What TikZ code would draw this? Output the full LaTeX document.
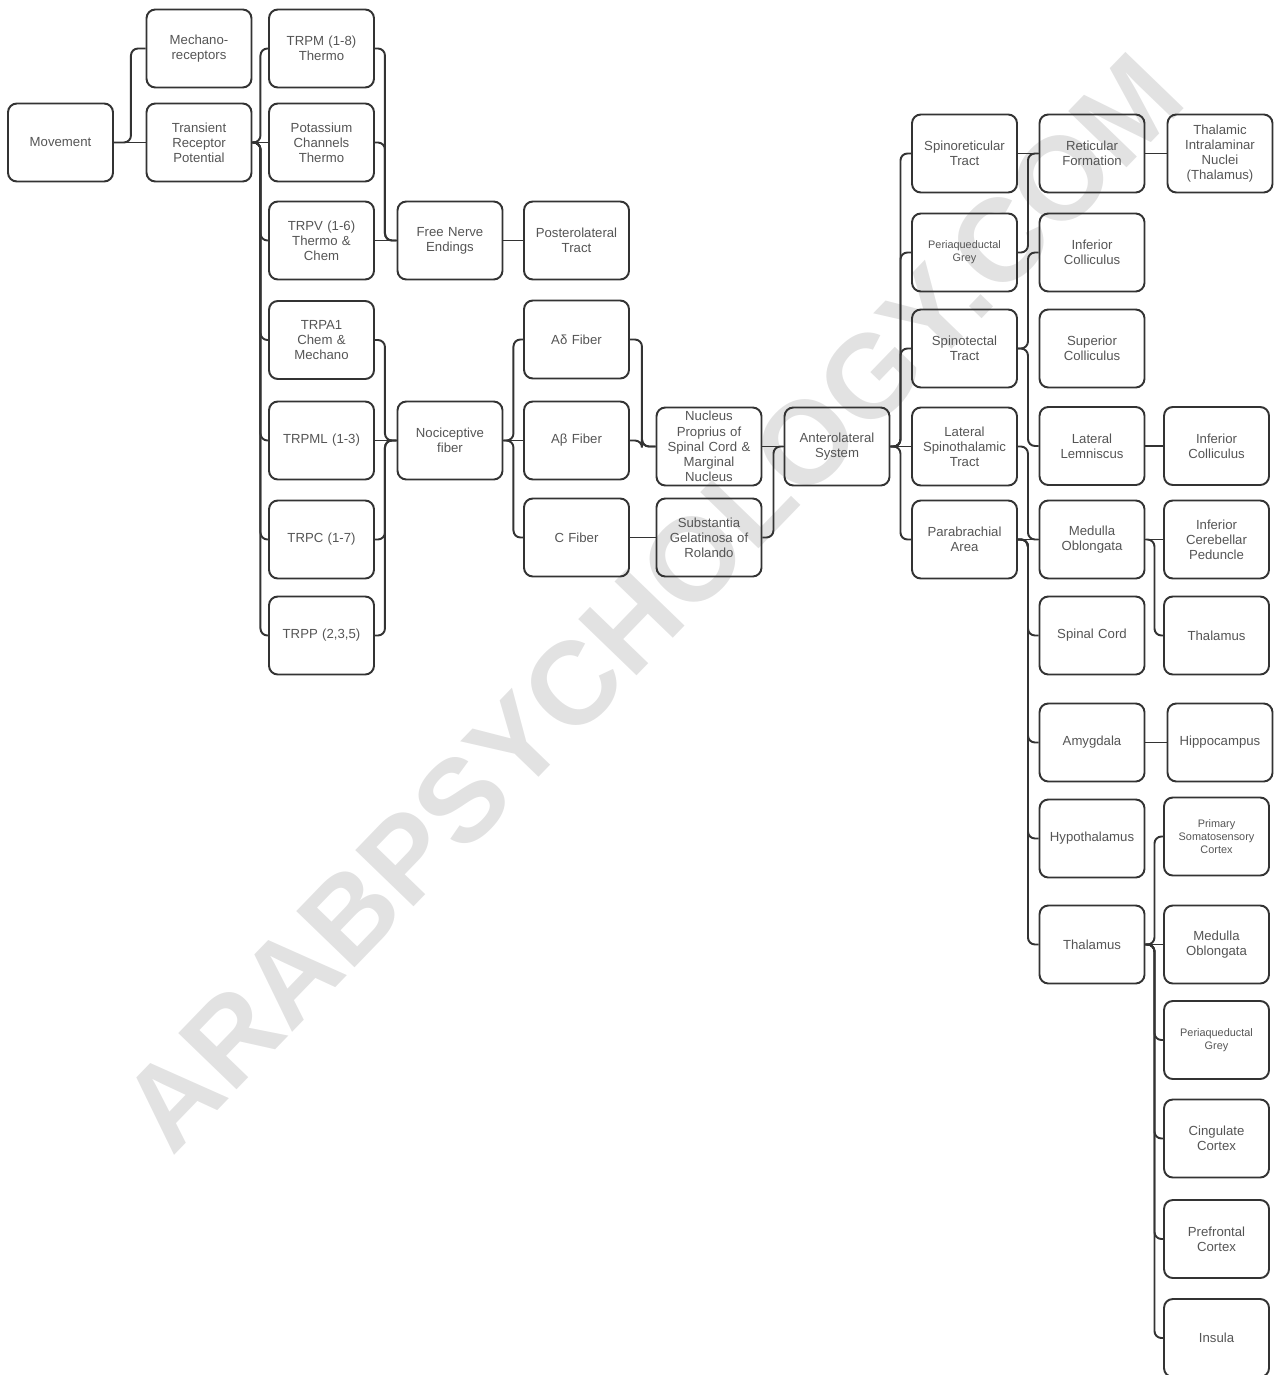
\documentclass[tikz,border=0pt]{standalone}
\usepackage{fontspec}
\setmainfont{Liberation Sans}
\usetikzlibrary{backgrounds}
\definecolor{boxline}{HTML}{333333}
\definecolor{boxtext}{HTML}{555555}
\definecolor{wmark}{HTML}{E2E2E2}

\begin{document}
\begin{tikzpicture}[
    x=0.02cm, y=-0.02cm,
    box/.style={rectangle, draw=boxline, line width=1.1pt, rounded corners=5pt, minimum width=2.1cm, minimum height=1.56cm, text width=2.05cm, align=center, inner sep=0pt, text=boxtext, font=\fontsize{7.5}{8.6}\selectfont},
    smalltext/.style={font=\fontsize{6.2}{7.2}\selectfont},
    link/.style={draw=boxline, line width=1.1pt, rounded corners=4pt},
    watermark/.style={text=wmark, rotate=46, font=\fontsize{67}{67}\selectfont\bfseries}
]
\useasboundingbox (0,0) rectangle (1275,1375);

% Watermark
\node[watermark] (wm) at (652,602) {ARABPSYCHOLOGY.COM};

% Receptors
\node[box] (move) at (60.5,142.5) {Movement};
\node[box] (mech) at (199,48.5) {Mechano-\\receptors};
\node[box] (trp) at (199,142.5) {Transient\\Receptor\\Potential};
\node[box] (trpm) at (321.5,48.5) {TRPM (1-8)\\Thermo};
\node[box] (kchan) at (321.5,142.5) {Potassium\\Channels\\Thermo};
\node[box] (trpv) at (321.5,240.5) {TRPV (1-6)\\Thermo \&\\Chem};
\node[box] (trpa) at (321.5,340) {TRPA1\\Chem \&\\Mechano};
\node[box] (trpml) at (321.5,440.5) {TRPML (1-3)};
\node[box] (trpc) at (321.5,539.5) {TRPC (1-7)};
\node[box] (trpp) at (321.5,635.5) {TRPP (2,3,5)};

% Fibers and spinal cord
\node[box] (fne) at (450,240.5) {Free Nerve\\Endings};
\node[box] (noci) at (450,440.5) {Nociceptive\\fiber};
\node[box] (plt) at (576.5,240.5) {Posterolateral\\Tract};
\node[box] (adelta) at (576.5,339.5) {Aδ Fiber};
\node[box] (abeta) at (576.5,440.5) {Aβ Fiber};
\node[box] (cfib) at (576.5,537.5) {C Fiber};
\node[box] (nprop) at (709,446.5) {Nucleus\\Proprius of\\Spinal Cord \&\\Marginal\\Nucleus};
\node[box] (sgr) at (709,537.5) {Substantia\\Gelatinosa of\\Rolando};
\node[box] (als) at (837,446.5) {Anterolateral\\System};

% Tracts
\node[box] (srt) at (964.5,153.5) {Spinoreticular\\Tract};
\node[box, smalltext] (pag) at (964.5,252.5) {Periaqueductal\\Grey};
\node[box] (stt) at (964.5,348.5) {Spinotectal\\Tract};
\node[box] (lst) at (964.5,446.5) {Lateral\\Spinothalamic\\Tract};
\node[box] (pba) at (964.5,539.5) {Parabrachial\\Area};

% Brain targets
\node[box] (retf) at (1092,153.5) {Reticular\\Formation};
\node[box] (icol) at (1092,252.5) {Inferior\\Colliculus};
\node[box] (scol) at (1092,348.5) {Superior\\Colliculus};
\node[box] (llem) at (1092,446) {Lateral\\Lemniscus};
\node[box] (medob) at (1092,539.5) {Medulla\\Oblongata};
\node[box] (spcord) at (1092,635.5) {Spinal Cord};
\node[box] (amyg) at (1092,742.5) {Amygdala};
\node[box] (hypo) at (1092,838.5) {Hypothalamus};
\node[box] (thal) at (1092,944.5) {Thalamus};

\node[box] (tin) at (1220,153.5) {Thalamic\\Intralaminar\\Nuclei\\(Thalamus)};
\node[box] (icol2) at (1216.5,446) {Inferior\\Colliculus};
\node[box] (icp) at (1216.5,539.5) {Inferior\\Cerebellar\\Peduncle};
\node[box] (thal2) at (1216.5,635.5) {Thalamus};
\node[box] (hippo) at (1220,742.5) {Hippocampus};
\node[box, smalltext] (sone) at (1216.5,836.5) {Primary\\Somatosensory\\Cortex};
\node[box] (medob2) at (1216.5,944.5) {Medulla\\Oblongata};
\node[box, smalltext] (pag2) at (1216.5,1040) {Periaqueductal\\Grey};
\node[box] (cing) at (1216.5,1138.5) {Cingulate\\Cortex};
\node[box] (pfc) at (1216.5,1239) {Prefrontal\\Cortex};
\node[box] (insula) at (1216.5,1338) {Insula};

% Connectors
\draw[link] (move.east) -- ++(17,0) |- (mech.west);
\draw[link] (move) -- (trp);

\draw[link] (trp.east) -- ++(8,0) |- (trpm.west);
\draw[link] (trp) -- (kchan);
\draw[link] (trp.east) -- ++(8,0) |- (trpv.west);
\draw[link] (trp.east) -- ++(8,0) |- (trpa.west);
\draw[link] (trp.east) -- ++(8,0) |- (trpml.west);
\draw[link] (trp.east) -- ++(8,0) |- (trpc.west);
\draw[link] (trp.east) -- ++(8,0) |- (trpp.west);

\draw[link] (trpm.east) -- ++(10,0) |- (fne.west);
\draw[link] (kchan.east) -- ++(10,0) |- (fne.west);
\draw[link] (trpv) -- (fne);
\draw[link] (trpa.east) -- ++(10,0) |- (noci.west);
\draw[link] (trpml) -- (noci);
\draw[link] (trpc.east) -- ++(10,0) |- (noci.west);
\draw[link] (trpp.east) -- ++(10,0) |- (noci.west);

\draw[link] (fne) -- (plt);
\draw[link] (noci.east) -- ++(10,0) |- (adelta.west);
\draw[link] (noci) -- (abeta);
\draw[link] (noci.east) -- ++(10,0) |- (cfib.west);

\draw[link] (adelta.east) -- ++(12,0) |- (nprop.west);
\draw[link] (abeta.east) -- ++(12,0) |- (nprop.west);
\draw[link] (cfib) -- (sgr);
\draw[link] (nprop) -- (als);
\draw[link] (sgr.east) -- ++(11,0) |- (als.west);

\draw[link] (als.east) -- ++(10,0) |- (srt.west);
\draw[link] (als.east) -- ++(10,0) |- (pag.west);
\draw[link] (als.east) -- ++(10,0) |- (stt.west);
\draw[link] (als) -- (lst);
\draw[link] (als.east) -- ++(10,0) |- (pba.west);

\draw[link] (srt) -- (retf);
\draw[link] (pag.east) -- ++(10,0) |- (retf.west);
\draw[link] (stt.east) -- ++(10,0) |- (icol.west);
\draw[link] (stt.east) -- ++(10,0) |- (llem.west);
\draw[link] (lst.east) -- ++(10,0) |- (medob.west);
\draw[link] (pba) -- (medob);
\draw[link] (pba.east) -- ++(10,0) |- (spcord.west);
\draw[link] (pba.east) -- ++(10,0) |- (amyg.west);
\draw[link] (pba.east) -- ++(10,0) |- (hypo.west);
\draw[link] (pba.east) -- ++(10,0) |- (thal.west);

\draw[link] (retf) -- (tin);
\draw[link] (llem) -- (icol2);
\draw[link] (medob) -- (icp);
\draw[link] (medob.east) -- ++(9,0) |- (thal2.west);
\draw[link] (amyg) -- (hippo);

\draw[link] (thal.east) -- ++(9,0) |- (sone.west);
\draw[link] (thal) -- (medob2);
\draw[link] (thal.east) -- ++(9,0) |- (pag2.west);
\draw[link] (thal.east) -- ++(9,0) |- (cing.west);
\draw[link] (thal.east) -- ++(9,0) |- (pfc.west);
\draw[link] (thal.east) -- ++(9,0) |- (insula.west);

\end{tikzpicture}
\end{document}
